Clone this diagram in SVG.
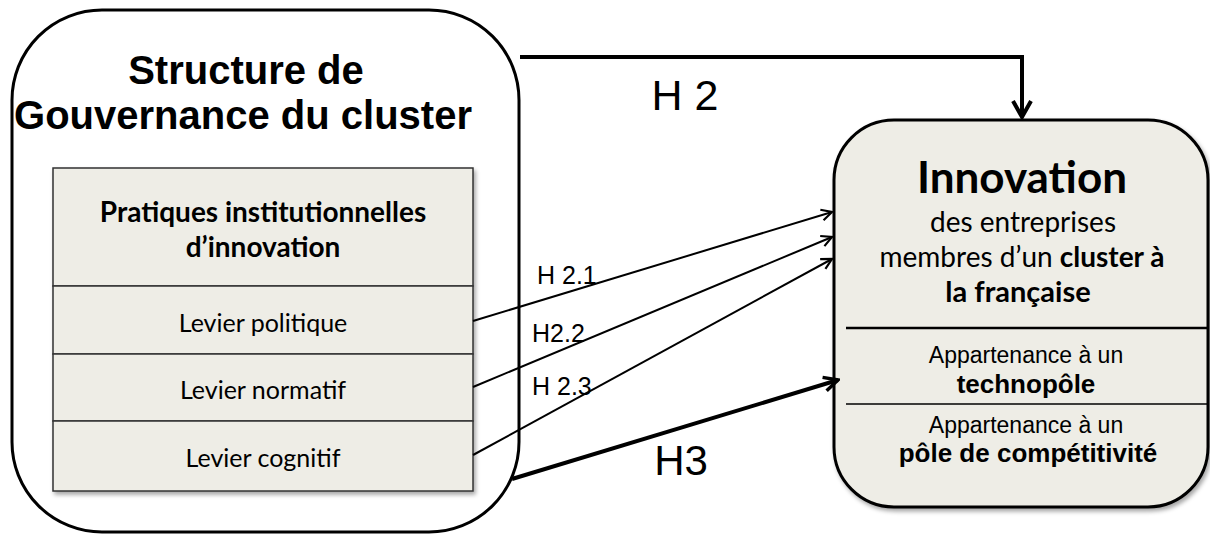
<svg xmlns="http://www.w3.org/2000/svg" width="1210" height="535" viewBox="0 0 1210 535">
  <style>
    .box { stroke: #000; stroke-width: 3; }
    .fillbox { fill: #eeede6; }
    .cell { fill: #eeede6; stroke: #333; stroke-width: 1.5; }
    .arial { font-family: "Liberation Sans", Arial, sans-serif; fill: #000; }
    .cal { font-family: Lato, "Open Sans", sans-serif; fill: #000; }
    .b { font-weight: bold; }
    .conn { fill: none; stroke: #000; }
  </style>
  <defs>
    <filter id="sh" x="-5%" y="-5%" width="115%" height="115%">
      <feDropShadow dx="2" dy="3" stdDeviation="2" flood-color="#000" flood-opacity="0.35"/>
    </filter>
    <marker id="ah" viewBox="0 0 14 14" refX="12" refY="7" markerWidth="14" markerHeight="14" markerUnits="userSpaceOnUse" orient="auto">
      <path d="M1.5,1.5 L12,7 L1.5,12.5" fill="none" stroke="#000" stroke-width="2.2"/>
    </marker>
    <marker id="ahBig" viewBox="0 0 22 22" refX="19" refY="11" markerWidth="22" markerHeight="22" markerUnits="userSpaceOnUse" orient="auto">
      <path d="M3,2 L19,11 L3,20" fill="none" stroke="#000" stroke-width="4"/>
    </marker>
    <marker id="ahMid" viewBox="0 0 18 18" refX="16" refY="9" markerWidth="18" markerHeight="18" markerUnits="userSpaceOnUse" orient="auto">
      <path d="M2,2 L16,9 L2,16" fill="none" stroke="#000" stroke-width="3.5"/>
    </marker>
  </defs>

  <g id="gouvernance">
    <rect class="box" x="12" y="10" width="507" height="522" rx="90" ry="90" fill="#fff"/>
    <text class="arial b" x="246" y="84" font-size="40" text-anchor="middle">Structure de</text>
    <text class="arial b" x="243" y="129" font-size="40" text-anchor="middle">Gouvernance du cluster</text>
  </g>

  <g id="pratiques" filter="url(#sh)">
    <rect class="cell" x="53" y="168" width="420" height="118"/>
    <rect class="cell" x="53" y="286" width="420" height="68"/>
    <rect class="cell" x="53" y="354" width="420" height="67"/>
    <rect class="cell" x="53" y="421" width="420" height="70"/>
  </g>
  <g id="pratiques-text">
    <text class="cal b" x="263" y="222" font-size="28" text-anchor="middle">Pratiques institutionnelles</text>
    <text class="cal b" x="263" y="257" font-size="28" text-anchor="middle">d’innovation</text>
    <text class="cal" x="263" y="332" font-size="25" text-anchor="middle">Levier politique</text>
    <text class="cal" x="263" y="399" font-size="25" text-anchor="middle">Levier normatif</text>
    <text class="cal" x="263" y="467" font-size="25" text-anchor="middle">Levier cognitif</text>
  </g>

  <g id="innovation">
    <rect class="box fillbox" x="834" y="120" width="374" height="387" rx="60" ry="60" filter="url(#sh)"/>
    <line x1="846" y1="328" x2="1208" y2="328" stroke="#000" stroke-width="2.5"/>
    <line x1="846" y1="404" x2="1208" y2="404" stroke="#000" stroke-width="1.5"/>
    <text class="cal b" x="1022" y="193" font-size="44" text-anchor="middle">Innovation</text>
    <text class="cal" x="1023" y="232" font-size="28" text-anchor="middle">des entreprises</text>
    <text class="cal" x="1022" y="267" font-size="28" text-anchor="middle">membres d’un <tspan class="b">cluster à</tspan></text>
    <text class="cal b" x="1018" y="302" font-size="29" text-anchor="middle">la française</text>
    <text class="arial" x="1026" y="363" font-size="23" text-anchor="middle">Appartenance à un</text>
    <text class="arial b" x="1026" y="393" font-size="26" text-anchor="middle">technopôle</text>
    <text class="arial" x="1026" y="433" font-size="23" text-anchor="middle">Appartenance à un</text>
    <text class="arial b" x="1028" y="462" font-size="26" text-anchor="middle">pôle de compétitivité</text>
  </g>

  <g id="connectors">
    <path class="conn" d="M520,57 H1022 V117" stroke-width="4" marker-end="url(#ahBig)"/>
    <line class="conn" x1="473" y1="321" x2="832" y2="212" stroke-width="2" marker-end="url(#ah)"/>
    <line class="conn" x1="473" y1="387" x2="832" y2="237" stroke-width="2" marker-end="url(#ah)"/>
    <line class="conn" x1="473" y1="455" x2="832" y2="259" stroke-width="2" marker-end="url(#ah)"/>
    <line class="conn" x1="512" y1="479" x2="838" y2="380" stroke-width="4" marker-end="url(#ahMid)"/>
  </g>

  <g id="labels">
    <text class="arial" x="685" y="110" font-size="43" text-anchor="middle">H 2</text>
    <text class="arial" x="681" y="475" font-size="42" text-anchor="middle">H3</text>
    <text class="arial" x="537" y="284" font-size="25">H 2.1</text>
    <text class="arial" x="532" y="342" font-size="25">H2.2</text>
    <text class="arial" x="532" y="395" font-size="25">H 2.3</text>
  </g>
</svg>
